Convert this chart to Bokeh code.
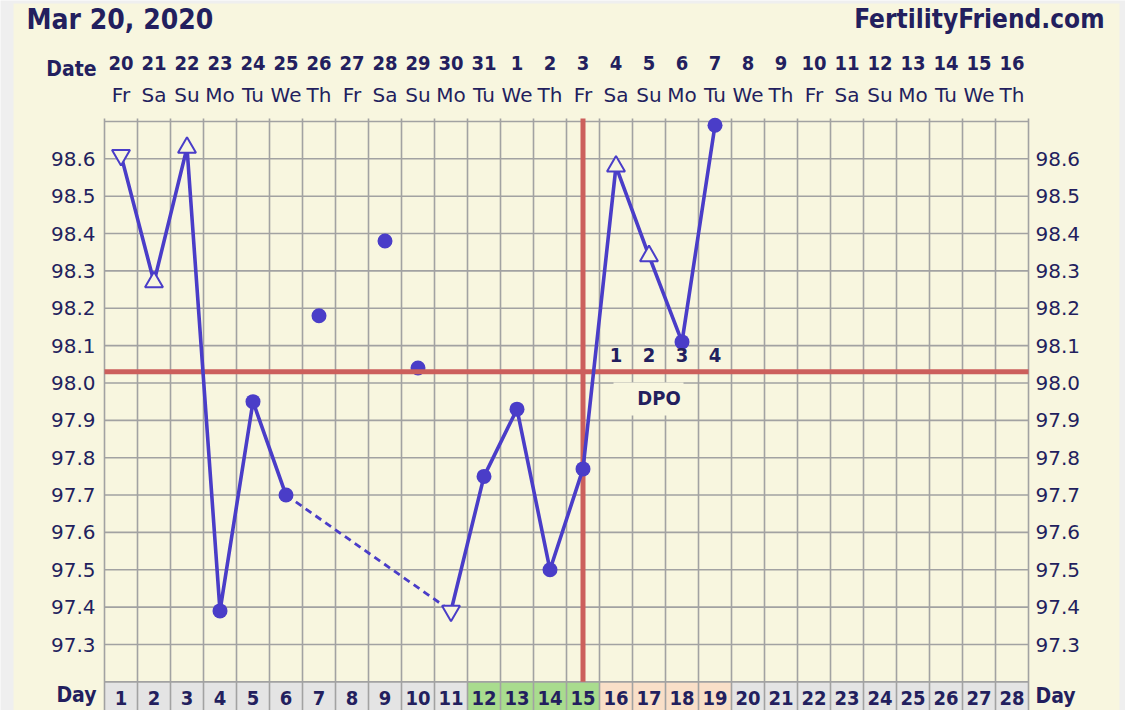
import numpy as np
from bokeh.plotting import figure
from bokeh.models import Range1d
from bokeh.core.properties import value
from bokeh.embed import file_html
from bokeh.resources import INLINE

# ---------------- chart data ----------------
chart_date = "Mar 20, 2020"
site_name = "FertilityFriend.com"

cycle_days = list(range(1, 29))
calendar_dates = ["20", "21", "22", "23", "24", "25", "26", "27", "28", "29", "30", "31",
                  "1", "2", "3", "4", "5", "6", "7", "8", "9", "10", "11", "12",
                  "13", "14", "15", "16"]
weekdays = ["Fr", "Sa", "Su", "Mo", "Tu", "We", "Th"] * 4

# charted temperatures (°F)
charted_days = [1, 2, 3, 4, 5, 6, 11, 12, 13, 14, 15, 16, 17, 18, 19]
charted_temps = [98.61, 98.27, 98.63, 97.39, 97.95, 97.70, 97.39, 97.75, 97.93,
                 97.50, 97.77, 98.58, 98.34, 98.11, 98.69]
# open triangles: "up" / "down", otherwise a filled dot
charted_marks = ["down", "up", "up", "dot", "dot", "dot", "down", "dot", "dot",
                 "dot", "dot", "up", "up", "dot", "dot"]

# discarded temperatures (not connected)
discarded_days = [7, 9, 10]
discarded_temps = [98.18, 98.38, 98.04]

coverline = 98.03
ovulation_day = 15
fertile_days = [12, 13, 14, 15]
dpo_days = [16, 17, 18, 19]
dpo_labels = ["1", "2", "3", "4"]

temp_ticks = [97.3, 97.4, 97.5, 97.6, 97.7, 97.8, 97.9, 98.0,
              98.1, 98.2, 98.3, 98.4, 98.5, 98.6]

# ---------------- styling ----------------
W, H = 1125, 710
PAGE = "#efefef"
CREAM = "#f8f6df"
GRID = "#a2a2a2"
NAVY = "#231f5e"
BLUE = "#4a3dc8"
RED = "#cc5f5c"
CELL_GRAY = "#e4e4e4"
CELL_GREEN = "#a9dc8e"
CELL_PEACH = "#f9dfc8"

BOLD = value("DejaVu Sans Condensed")
REG = value("DejaVu Sans")

# canvas geometry: day d is centred at pixel 120.5 + 33*(d-1);
# 97.3 °F sits at pixel row 644, 373.6 px per degree
DAY0_PX, DAY_PX = 120.5, 33.0
T0, T0_PX, DEG_PX = 97.3, 644.0, 373.6


def sx(px):
    return 1 + (px - DAY0_PX) / DAY_PX


def sy(py):
    return T0 + (T0_PX - py) / DEG_PX


X0, X1 = sx(0), sx(W)
Y0, Y1 = sy(H), sy(0)
GRID_LO, GRID_HI = 97.2, 98.7
GRID_TOP = sy(118)

p = figure(width=W, height=H, x_range=Range1d(X0, X1), y_range=Range1d(Y0, Y1),
           output_backend="svg", toolbar_location=None, min_border=0,
           x_axis_location=None, y_axis_location=None,
           background_fill_color=PAGE, border_fill_color=PAGE,
           outline_line_color=None)
p.grid.grid_line_color = None


def label(x, y, text, size, bold=True, align="center"):
    p.text(x=x, y=y, text=text, text_font=BOLD if bold else REG,
           text_font_style="bold" if bold else "normal", text_font_size=size,
           text_color=NAVY, text_align=align, text_baseline="middle")


# cream chart panel
p.quad(left=[sx(13)], right=[sx(1119)], top=[sy(3)], bottom=[Y0],
       fill_color=CREAM, line_color=None)

# day-number row cells
cell_colors = [CELL_GREEN if d in fertile_days else CELL_PEACH if d in dpo_days else CELL_GRAY
               for d in cycle_days]
days_arr = np.array(cycle_days, dtype=float)
p.quad(left=days_arr - 0.5, right=days_arr + 0.5, top=GRID_LO, bottom=Y0,
       fill_color=cell_colors, line_color=None)

# grid
levels = np.round(np.arange(GRID_LO, GRID_HI + 0.01, 0.1), 1)
p.segment(x0=0.5, x1=len(cycle_days) + 0.5, y0=levels, y1=levels,
          line_color=GRID, line_width=1.6)
bounds = np.arange(0.5, len(cycle_days) + 1, 1.0)
p.segment(x0=bounds, x1=bounds, y0=Y0, y1=GRID_TOP, line_color=GRID, line_width=1.6)

# discarded temperatures sit under the coverline
p.scatter(discarded_days, discarded_temps, marker="circle", size=15,
          fill_color=BLUE, line_color=None)

# coverline and ovulation line
p.segment(x0=[0.5], x1=[len(cycle_days) + 0.5], y0=[coverline], y1=[coverline],
          line_color=RED, line_width=5)
p.segment(x0=[ovulation_day], x1=[ovulation_day], y0=[GRID_LO], y1=[GRID_TOP],
          line_color=RED, line_width=5)

# temperature line: solid over consecutive days, dashed across gaps
runs_x, runs_y, gap_x, gap_y = [], [], [], []
cur_x, cur_y = [charted_days[0]], [charted_temps[0]]
for i in range(1, len(charted_days)):
    if charted_days[i] - charted_days[i - 1] == 1:
        cur_x.append(charted_days[i]); cur_y.append(charted_temps[i])
    else:
        runs_x.append(cur_x); runs_y.append(cur_y)
        gap_x.append([charted_days[i - 1], charted_days[i]])
        gap_y.append([charted_temps[i - 1], charted_temps[i]])
        cur_x, cur_y = [charted_days[i]], [charted_temps[i]]
runs_x.append(cur_x); runs_y.append(cur_y)

p.multi_line(gap_x, gap_y, line_color=BLUE, line_width=2.8, line_dash="7 5")
p.multi_line(runs_x, runs_y, line_color=BLUE, line_width=3.6, line_join="round")

dots = [(d, t) for d, t, m in zip(charted_days, charted_temps, charted_marks) if m == "dot"]
ups = [(d, t) for d, t, m in zip(charted_days, charted_temps, charted_marks) if m == "up"]
downs = [(d, t) for d, t, m in zip(charted_days, charted_temps, charted_marks) if m == "down"]
p.scatter([d for d, _ in dots], [t for _, t in dots], marker="circle", size=15,
          fill_color=BLUE, line_color=None)
p.scatter([d for d, _ in ups], [t for _, t in ups], marker="triangle", size=18,
          fill_color=CREAM, line_color=BLUE, line_width=2)
p.scatter([d for d, _ in downs], [t for _, t in downs], marker="inverted_triangle", size=18,
          fill_color=CREAM, line_color=BLUE, line_width=2)

# DPO counter
label(dpo_days, sy(354), dpo_labels, "20px")
p.quad(left=[sx(613)], right=[sx(683)], top=[sy(382)], bottom=[sy(415)],
       fill_color=CREAM, line_color=None)
label([sx(658.5)], sy(397), ["DPO"], "20px")

# temperature scale, both sides
tick_text = [f"{t:.1f}" for t in temp_ticks]
label(sx(95), temp_ticks, tick_text, "20px", bold=False, align="right")
label(sx(1035), temp_ticks, tick_text, "20px", bold=False, align="left")

# header: calendar date and weekday over each cycle day
label(cycle_days, sy(62), calendar_dates, "20px")
label(cycle_days, sy(94), weekdays, "20px", bold=False)
label([sx(96)], sy(68), ["Date"], "21px", align="right")

# footer: cycle day numbers
label(cycle_days, sy(697), [str(d) for d in cycle_days], "20px")
label([sx(96)], sy(694), ["Day"], "21px", align="right")
label([sx(1035)], sy(695), ["Day"], "21px", align="left")

# titles
label([sx(26)], sy(18.5), [chart_date], "28px", align="left")
label([sx(1104)], sy(18.5), [site_name], "26px", align="right")

open("out.html", "w").write(file_html(p, INLINE))
